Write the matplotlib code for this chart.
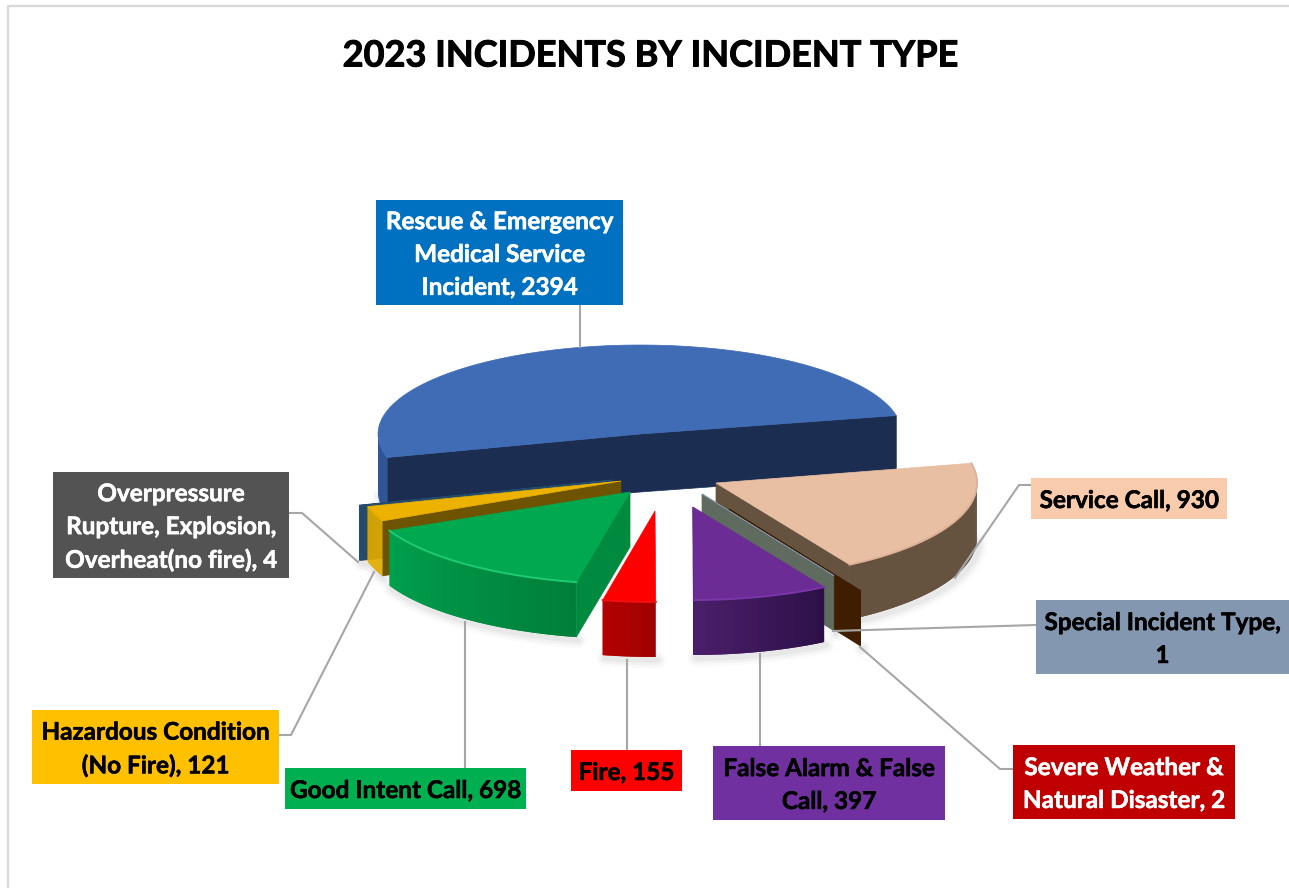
import numpy as np
import matplotlib
matplotlib.use('Agg')
import matplotlib.pyplot as plt
import matplotlib.patheffects as pe
from matplotlib.colors import to_rgb
from matplotlib.patches import Polygon, Rectangle

plt.rcParams['font.family'] = ['Lato', 'DejaVu Sans']

# data, clockwise from the start angle
categories = ['Service Call', 'Special Incident Type', 'Severe Weather &\nNatural Disaster',
              'False Alarm & False\nCall', 'Fire', 'Good Intent Call', 'Hazardous Condition\n(No Fire)',
              'Overpressure\nRupture, Explosion,\nOverheat(no fire)', 'Rescue & Emergency\nMedical Service\nIncident']
values = [930, 1, 2, 397, 155, 698, 121, 4, 2394]
title = '2023 INCIDENTS BY INCIDENT TYPE'

START_ANGLE = 12
DEPTH = 55
LEADER = '#A6A6A6'

# apex of each slice on the picture, ellipse radii and colours
slice_style = {
    'Service Call': dict(apex=(716, 483), rx=261, ry=95, top='#E9BFA3', wall='#65523F', front=('#65523F', '#65523F'), rim='#DDB196'),
    'Special Incident Type': dict(apex=(702, 494), rx=258, ry=95, top='#7E8FA5', wall='#5F6B5E', front=('#5F6B5E', '#5F6B5E')),
    'Severe': dict(apex=(729, 509), rx=258, ry=95, top='#3F1E00', wall='#3F1E00', front=('#3F1E00', '#3F1E00')),
    'False Alarm': dict(apex=(693, 507), rx=258, ry=93, top='#6B2C96', wall='#3E1A5E', front=('#2D1048', '#4A1F6A'), rim='#7A35A8'),
    'Fire': dict(apex=(655, 511), rx=258, ry=91, top='#FF0000', wall='#B00000', front=('#A00000', '#B40000'), rim='#F01010'),
    'Good Intent': dict(apex=(630, 492), rx=265, ry=92, top='#00A84F', wall='#008A40', front=('#007F3A', '#00A04D'), rim='#1CCB74'),
    'Hazardous': dict(apex=(621, 481), rx=263, ry=95, top='#EDB200', wall='#6E5400', front=('#E3AC00', '#E3AC00')),
    'Overpressure': dict(apex=(612, 480), rx=262, ry=95, top='#234B6B', wall='#234B6B', front=('#234B6B', '#234B6B')),
    'Rescue': dict(apex=(640, 434), rx=262, ry=89, depth=58, top='#3F6CB5', wall='#1B2D50', front=('#2F5597', '#2F5597')),
}
style_keys = ['Service Call', 'Special Incident Type', 'Severe', 'False Alarm', 'Fire',
              'Good Intent', 'Hazardous', 'Overpressure', 'Rescue']
draw_order = ['Rescue', 'Overpressure', 'Hazardous', 'Good Intent', 'Fire',
              'Service Call', 'Severe', 'Special Incident Type', 'False Alarm']

# label boxes: x0, y0, x1, y1, fill, text colour, separator before the value
label_boxes = {
    'Service Call': (1031, 478, 1227, 519, '#F8CBAD', 'black', ', '),
    'Special Incident Type': (1036, 600, 1289, 674, '#8497B0', 'black', ',\n'),
    'Severe': (1013, 745, 1235, 819, '#C00000', 'white', ', '),
    'False Alarm': (713, 746, 945, 820, '#7030A0', 'black', ', '),
    'Fire': (571, 750, 682, 791, '#FF0000', 'black', ', '),
    'Good Intent': (285, 768, 526, 809, '#00B050', 'black', ', '),
    'Hazardous': (32, 710, 279, 784, '#FFC000', 'black', ', '),
    'Overpressure': (53, 472, 289, 578, '#535353', 'white', ', '),
    'Rescue': (376, 200, 623, 305, '#0070C0', 'white', ', '),
}

leaders = [
    [(580, 305), (580, 347)],
    [(289, 513), (302, 513), (358, 562)],
    [(279, 735), (291, 735), (374, 572)],
    [(465, 768), (465, 622)],
    [(627, 750), (627, 660)],
    [(760, 746), (760, 654)],
    [(1013, 769), (1000, 769), (860, 647)],
    [(1036, 625), (833, 631)],
    [(1031, 485), (1019, 485), (955, 578)],
]


def ellipse_points(st, angles):
    """Points on the top ellipse of a slice, angles in degrees."""
    r = np.radians(angles)
    x = st['apex'][0] + st['rx'] * np.cos(r)
    y = st['apex'][1] - st['ry'] * np.sin(r)
    return np.column_stack([x, y])


def draw_slice(ax, st, t_hi, t_lo):
    """Extruded slice: walls first, then the outer face, then the top."""
    apex = np.array(st['apex'], dtype=float)
    down = np.array([0, st.get('depth', DEPTH)])

    angles = np.linspace(t_hi, t_lo, 80)
    outer = ellipse_points(st, angles)

    # soft shadow under the visible outer face
    front_mask = np.sin(np.radians(angles)) < 0
    if front_mask.sum() > 1:
        arc = outer[front_mask] + down
        for lw, a in [(12, 0.02), (8, 0.03), (4, 0.04)]:
            ax.plot(arc[:, 0] + 2, arc[:, 1] + 3, color='black', lw=lw, alpha=a, solid_capstyle='round', zorder=1)

    # radial walls that face the viewer
    walls = []
    if np.cos(np.radians(t_hi)) < 0:
        walls.append(t_hi)
    if np.cos(np.radians(t_lo)) > 0:
        walls.append(t_lo)
    for t in walls:
        p = ellipse_points(st, [t])[0]
        ax.add_patch(Polygon([apex, p, p + down, apex + down], closed=True, fc=st['wall'], ec=st['wall'], lw=0.5, zorder=2))

    # outer face, quads overlap by one step so the gradient has no seams
    c_hi, c_lo = np.array(to_rgb(st['front'][0])), np.array(to_rgb(st['front'][1]))
    for i in range(len(angles) - 1):
        if np.sin(np.radians((angles[i] + angles[i + 1]) / 2)) >= 0:
            continue
        c = c_hi + (c_lo - c_hi) * i / (len(angles) - 2)
        a, b = outer[i], outer[min(i + 2, len(angles) - 1)]
        ax.add_patch(Polygon([a, b, b + down, a + down], closed=True, fc=c, ec='none', zorder=2))

    # top surface
    ax.add_patch(Polygon(np.vstack([apex, outer]), closed=True, fc=st['top'], ec=st['top'], lw=0.5, zorder=2))
    if 'rim' in st:
        ax.plot(outer[:, 0], outer[:, 1], color=st['rim'], lw=1.4, zorder=2)


fig = plt.figure(figsize=(12.89, 8.88), dpi=100)
ax = fig.add_axes([0, 0, 1, 1])
ax.set_xlim(0, 1289)
ax.set_ylim(888, 0)
ax.axis('off')

# chart frame, only left and top are inside the crop
ax.plot([8, 8, 1289], [888, 6, 6], color='#D9D9D9', lw=1.6, zorder=0)

ax.text(650, 56, title, ha='center', va='center', fontsize=26, fontweight='bold', color='black',
        path_effects=[pe.withStroke(linewidth=0.7, foreground='black')])

# slice angles follow from the values
fractions = np.array(values) / np.sum(values)
ends = START_ANGLE - np.cumsum(fractions) * 360
starts = np.concatenate([[START_ANGLE], ends[:-1]])
angle_of = {k: (starts[i], ends[i]) for i, k in enumerate(style_keys)}

for key in draw_order:
    draw_slice(ax, slice_style[key], *angle_of[key])

for seg in leaders:
    pts = np.array(seg)
    ax.plot(pts[:, 0], pts[:, 1], color=LEADER, lw=1.5, zorder=3)

for i, key in enumerate(style_keys):
    x0, y0, x1, y1, fill, txt, sep = label_boxes[key]
    ax.add_patch(Rectangle((x0, y0), x1 - x0, y1 - y0, fc=fill, ec='none', zorder=4))
    ax.text((x0 + x1) / 2, (y0 + y1) / 2 + 2, f'{categories[i]}{sep}{values[i]}', ha='center', va='center',
            fontsize=17.5, fontweight='bold', color=txt, linespacing=1.52, zorder=5,
            path_effects=[pe.withStroke(linewidth=0.4, foreground=txt)])

fig.savefig('out.png', dpi=100)
plt.close(fig)
